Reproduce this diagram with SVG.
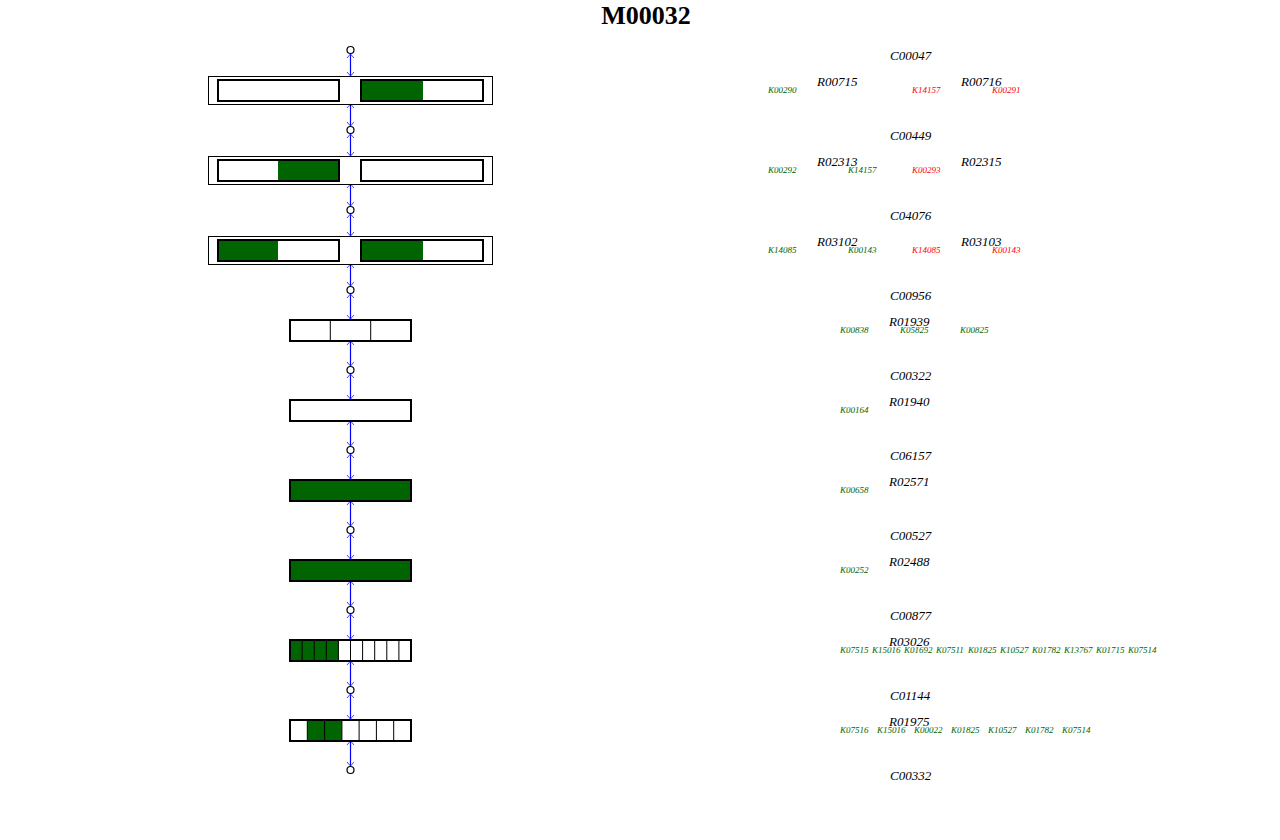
<svg xmlns="http://www.w3.org/2000/svg" width="1280" height="840" viewBox="0 0 1280 840">
<style>
.title{font-family:"Liberation Serif","Times New Roman",serif;font-weight:bold;font-size:26px;fill:#000}
.cpd{font-family:"Liberation Serif","Times New Roman",serif;font-style:italic;font-size:13px;fill:#000}
.rn{font-family:"Liberation Serif","Times New Roman",serif;font-style:italic;font-size:13px;fill:#000}
.kg{font-family:"Liberation Serif","Times New Roman",serif;font-style:italic;font-size:9px;fill:#006400}
.kr{font-family:"Liberation Serif","Times New Roman",serif;font-style:italic;font-size:9px;fill:#ff0000}
.outer{fill:#fff;stroke:#000;stroke-width:1}
.box{fill:#fff;stroke:#000;stroke-width:2}
.g{fill:#006400}
.div{stroke:#000;stroke-width:1}
.cir{fill:#fff;stroke:#000;stroke-width:1.2}
.conn line{stroke:#0000ff;stroke-width:1.2;marker-start:url(#chev);marker-end:url(#chev)}
</style>
<defs>
<marker id="chev" viewBox="-6 -5 8 10" markerWidth="8" markerHeight="10" markerUnits="userSpaceOnUse" refX="0" refY="0" orient="auto-start-reverse">
<path d="M-4,-3.5 L0,0 L-4,3.5" fill="none" stroke="#3030ff" stroke-width="0.9"/>
</marker>
</defs>
<rect width="1280" height="840" fill="#fff"/>
<text class="title" x="646" y="24" text-anchor="middle">M00032</text>

<g id="connectors" class="conn">
<line x1="350.5" y1="54" x2="350.5" y2="76"/>
<line x1="350.5" y1="104" x2="350.5" y2="126"/>
<line x1="350.5" y1="134" x2="350.5" y2="156"/>
<line x1="350.5" y1="184" x2="350.5" y2="206"/>
<line x1="350.5" y1="214" x2="350.5" y2="236"/>
<line x1="350.5" y1="264" x2="350.5" y2="286"/>
<line x1="350.5" y1="294" x2="350.5" y2="319"/>
<line x1="350.5" y1="341" x2="350.5" y2="366"/>
<line x1="350.5" y1="374" x2="350.5" y2="399"/>
<line x1="350.5" y1="421" x2="350.5" y2="446"/>
<line x1="350.5" y1="454" x2="350.5" y2="479"/>
<line x1="350.5" y1="501" x2="350.5" y2="526"/>
<line x1="350.5" y1="534" x2="350.5" y2="559"/>
<line x1="350.5" y1="581" x2="350.5" y2="606"/>
<line x1="350.5" y1="614" x2="350.5" y2="639"/>
<line x1="350.5" y1="661" x2="350.5" y2="686"/>
<line x1="350.5" y1="694" x2="350.5" y2="719"/>
<line x1="350.5" y1="741" x2="350.5" y2="766"/>
</g>

<g id="compounds">
<circle class="cir" cx="350.5" cy="50" r="3.5"/>
<circle class="cir" cx="350.5" cy="130" r="3.5"/>
<circle class="cir" cx="350.5" cy="210" r="3.5"/>
<circle class="cir" cx="350.5" cy="290" r="3.5"/>
<circle class="cir" cx="350.5" cy="370" r="3.5"/>
<circle class="cir" cx="350.5" cy="450" r="3.5"/>
<circle class="cir" cx="350.5" cy="530" r="3.5"/>
<circle class="cir" cx="350.5" cy="610" r="3.5"/>
<circle class="cir" cx="350.5" cy="690" r="3.5"/>
<circle class="cir" cx="350.5" cy="770" r="3.5"/>
</g>

<g id="step1">
<rect class="outer" x="208.5" y="76.5" width="284" height="28"/>
<rect class="box" x="218" y="80" width="121" height="21"/>
<rect class="box" x="361" y="80" width="122" height="21"/>
<rect class="g" x="362" y="81" width="61" height="19"/>
</g>
<g id="step2">
<rect class="outer" x="208.5" y="156.5" width="284" height="28"/>
<rect class="box" x="218" y="160" width="121" height="21"/>
<rect class="g" x="278" y="161" width="60" height="19"/>
<rect class="box" x="361" y="160" width="122" height="21"/>
</g>
<g id="step3">
<rect class="outer" x="208.5" y="236.5" width="284" height="28"/>
<rect class="box" x="218" y="240" width="121" height="21"/>
<rect class="g" x="219" y="241" width="59" height="19"/>
<rect class="box" x="361" y="240" width="122" height="21"/>
<rect class="g" x="362" y="241" width="61" height="19"/>
</g>
<g id="step4">
<rect class="box" x="290" y="320" width="121" height="21"/>
<line class="div" x1="330.3" y1="320" x2="330.3" y2="341"/>
<line class="div" x1="370.7" y1="320" x2="370.7" y2="341"/>
</g>
<g id="step5">
<rect class="box" x="290" y="400" width="121" height="21"/>
</g>
<g id="step6">
<rect class="box" x="290" y="480" width="121" height="21" style="fill:#006400"/>
</g>
<g id="step7">
<rect class="box" x="290" y="560" width="121" height="21" style="fill:#006400"/>
</g>
<g id="step8">
<rect class="box" x="290" y="640" width="121" height="21"/>
<rect class="g" x="291" y="641" width="47.4" height="19"/>
<line class="div" x1="302.1" y1="640" x2="302.1" y2="661"/>
<line class="div" x1="314.2" y1="640" x2="314.2" y2="661"/>
<line class="div" x1="326.3" y1="640" x2="326.3" y2="661"/>
<line class="div" x1="338.4" y1="640" x2="338.4" y2="661"/>
<line class="div" x1="350.5" y1="640" x2="350.5" y2="661"/>
<line class="div" x1="362.6" y1="640" x2="362.6" y2="661"/>
<line class="div" x1="374.7" y1="640" x2="374.7" y2="661"/>
<line class="div" x1="386.8" y1="640" x2="386.8" y2="661"/>
<line class="div" x1="398.9" y1="640" x2="398.9" y2="661"/>
</g>
<g id="step9">
<rect class="box" x="290" y="720" width="121" height="21"/>
<rect class="g" x="307.3" y="721" width="34.6" height="19"/>
<line class="div" x1="307.3" y1="720" x2="307.3" y2="741"/>
<line class="div" x1="324.6" y1="720" x2="324.6" y2="741"/>
<line class="div" x1="341.9" y1="720" x2="341.9" y2="741"/>
<line class="div" x1="359.1" y1="720" x2="359.1" y2="741"/>
<line class="div" x1="376.4" y1="720" x2="376.4" y2="741"/>
<line class="div" x1="393.7" y1="720" x2="393.7" y2="741"/>
</g>

<g id="labels">
<text class="cpd" x="890" y="60">C00047</text>
<text class="kg" x="768" y="93">K00290</text>
<text class="rn" x="817" y="86">R00715</text>
<text class="kr" x="912" y="93">K14157</text>
<text class="rn" x="961" y="86">R00716</text>
<text class="kr" x="992" y="93">K00291</text>

<text class="cpd" x="890" y="140">C00449</text>
<text class="kg" x="768" y="173">K00292</text>
<text class="rn" x="817" y="166">R02313</text>
<text class="kg" x="848" y="173">K14157</text>
<text class="kr" x="912" y="173">K00293</text>
<text class="rn" x="961" y="166">R02315</text>

<text class="cpd" x="890" y="220">C04076</text>
<text class="kg" x="768" y="253">K14085</text>
<text class="rn" x="817" y="246">R03102</text>
<text class="kg" x="848" y="253">K00143</text>
<text class="kr" x="912" y="253">K14085</text>
<text class="rn" x="961" y="246">R03103</text>
<text class="kr" x="992" y="253">K00143</text>

<text class="cpd" x="890" y="300">C00956</text>
<text class="rn" x="889" y="326">R01939</text>
<text class="kg" x="840" y="333">K00838</text>
<text class="kg" x="900" y="333">K05825</text>
<text class="kg" x="960" y="333">K00825</text>

<text class="cpd" x="890" y="380">C00322</text>
<text class="rn" x="889" y="406">R01940</text>
<text class="kg" x="840" y="413">K00164</text>

<text class="cpd" x="890" y="460">C06157</text>
<text class="rn" x="889" y="486">R02571</text>
<text class="kg" x="840" y="493">K00658</text>

<text class="cpd" x="890" y="540">C00527</text>
<text class="rn" x="889" y="566">R02488</text>
<text class="kg" x="840" y="573">K00252</text>

<text class="cpd" x="890" y="620">C00877</text>
<text class="rn" x="889" y="646">R03026</text>
<text class="kg" x="840" y="653">K07515</text>
<text class="kg" x="872" y="653">K15016</text>
<text class="kg" x="904" y="653">K01692</text>
<text class="kg" x="936" y="653">K07511</text>
<text class="kg" x="968" y="653">K01825</text>
<text class="kg" x="1000" y="653">K10527</text>
<text class="kg" x="1032" y="653">K01782</text>
<text class="kg" x="1064" y="653">K13767</text>
<text class="kg" x="1096" y="653">K01715</text>
<text class="kg" x="1128" y="653">K07514</text>

<text class="cpd" x="890" y="700">C01144</text>
<text class="rn" x="889" y="726">R01975</text>
<text class="kg" x="840" y="733">K07516</text>
<text class="kg" x="877" y="733">K15016</text>
<text class="kg" x="914" y="733">K00022</text>
<text class="kg" x="951" y="733">K01825</text>
<text class="kg" x="988" y="733">K10527</text>
<text class="kg" x="1025" y="733">K01782</text>
<text class="kg" x="1062" y="733">K07514</text>

<text class="cpd" x="890" y="780">C00332</text>
</g>
</svg>
